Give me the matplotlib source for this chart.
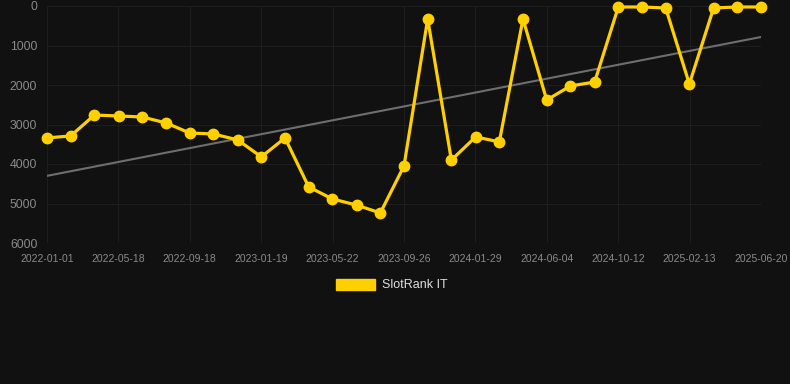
import matplotlib
matplotlib.use("Agg")
import matplotlib.pyplot as plt
import numpy as np
import pandas as pd
from matplotlib.patches import Patch

plt.rcParams["font.family"] = ["Liberation Sans", "DejaVu Sans"]

dates = ["2022-01-01", "2022-02-12", "2022-03-26", "2022-05-08", "2022-06-19",
         "2022-07-31", "2022-09-11", "2022-10-23", "2022-12-05", "2023-01-16",
         "2023-02-27", "2023-04-10", "2023-05-22", "2023-07-04", "2023-08-15",
         "2023-09-26", "2023-11-07", "2023-12-19", "2024-01-31", "2024-03-13",
         "2024-04-24", "2024-06-05", "2024-07-17", "2024-08-29", "2024-10-10",
         "2024-11-21", "2025-01-02", "2025-02-13", "2025-03-28", "2025-05-09",
         "2025-06-20"]
ranks = [3340, 3290, 2760, 2785, 2810, 2960, 3215, 3240, 3390, 3820,
         3340, 4580, 4885, 5040, 5240, 4050, 330, 3900, 3315, 3440,
         330, 2380, 2025, 1925, 25, 25, 50, 1975, 50, 25, 25]
trend_ends = [4300, 785]
tick_labels = ["2022-01-01", "2022-05-18", "2022-09-18", "2023-01-19", "2023-05-22",
               "2023-09-26", "2024-01-29", "2024-06-04", "2024-10-12", "2025-02-13",
               "2025-06-20"]
y_ticks = [0, 1000, 2000, 3000, 4000, 5000, 6000]
series_name = "SlotRank IT"

bg = "#111111"
gold = "#FFD000"
fig = plt.figure(figsize=(7.9, 3.84), dpi=100, facecolor=bg)
ax = fig.add_axes([47/790, 1-243/384, (761-47)/790, (243-6)/384], facecolor=bg)

x = pd.to_datetime(dates)
ax.plot([x[0], x[-1]], trend_ends, color="#6e6e6e", lw=1.5, zorder=2)
ax.plot(x, ranks, color=gold, lw=2.3, marker="o", ms=7.5, zorder=3,
        solid_joinstyle="round", clip_on=False)

ax.set_ylim(6000, 0)
x0, x1 = pd.Timestamp(dates[0]), pd.Timestamp(dates[-1])
ax.set_xlim(x0, x1)
lo, hi = ax.get_xlim()
tick_pos = np.linspace(lo, hi, len(tick_labels))
ax.set_xticks(tick_pos)
ax.set_xticklabels(tick_labels)
ax.set_yticks(y_ticks)
ax.set_yticklabels([str(v) for v in y_ticks])
ax.tick_params(axis="x", colors="#8a8a8a", labelsize=7.5, length=0, pad=8)
ax.tick_params(axis="y", colors="#8a8a8a", labelsize=8.8, length=0, pad=7)
ax.grid(True, color="#1d1d1d", lw=0.8)
ax.axhline(6000, color="#2a2a2a", lw=0.8, zorder=1)
for s in ax.spines.values():
    s.set_visible(False)

handle = Patch(facecolor=gold, edgecolor=gold)
fig.legend([handle], [series_name], loc="center", bbox_to_anchor=(392/790, 1-285/384),
           frameon=False, labelcolor="#dddddd", fontsize=9, handlelength=3.1,
           handleheight=1.0, handletextpad=0.55)

fig.savefig("out.png", dpi=100, facecolor=bg)
